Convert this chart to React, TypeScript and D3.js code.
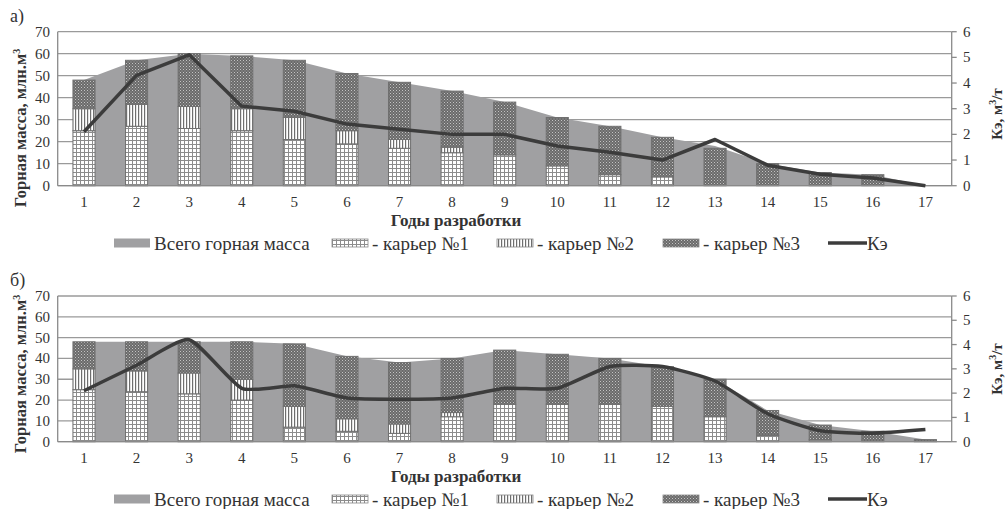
import React from "react";
import * as d3 from "d3";

const years = ["1","2","3","4","5","6","7","8","9","10","11","12","13","14","15","16","17"];
const leftTicks = [0,10,20,30,40,50,60,70];
const rightTicks = [0,1,2,3,4,5,6];

// Panel a)
const aQuarry1 = [25,27,26,25,21,19,17,15,14,9,5,4,0,0,0,0,0];
const aQuarry2 = [10,10,10,10,10,6,4,2.5,0,0,0,0,0,0,0,0,0];
const aQuarry3 = [13,20,24,24,26,26,26,25.5,24,22,22,18,17,10,6,5,0];
const aTotal = [48,57,60,59,57,51,47,43,38,31,27,22,18,10,6,5,0];
const aKe = [2.1,4.3,5.1,3.1,2.9,2.4,2.2,2.0,2.0,1.55,1.3,1.0,1.8,0.8,0.45,0.3,0];

// Panel б)
const bQuarry1 = [25,24,23,20,7,5,4,12,18,18,18,17,12,3,1,0,0];
const bQuarry2 = [10,10,10,10,10,6,4.5,2,0,0,0,0,0,0,0,0,0];
const bQuarry3 = [13,14,15,18,30,30,29.5,26,26,24,22,19,18,12,7,5,1];
const bTotal = [48,48,48,48,47,41,38,40,44,42,40,36,30,15,8,5,1];
const bKe = [2.1,3.15,4.2,2.2,2.3,1.8,1.75,1.8,2.2,2.2,3.1,3.1,2.5,1.15,0.45,0.35,0.5];

const legendLabels = ["Всего горная масса", "- карьер №1", "- карьер №2", "- карьер №3", "Кэ"];

const FONT = "Liberation Serif, DejaVu Serif, Times New Roman, serif";
const X0 = 57.7;
const X1 = 951.7;

type PanelProps = {
  label: string;
  top: number;
  bottom: number;
  q1: number[];
  q2: number[];
  q3: number[];
  total: number[];
  ke: number[];
  smooth: boolean;
  legendY: number;
  leftTitleY: number;
  rightTitleY: number;
};

function Panel(p: PanelProps) {
  const x = d3.scaleBand<string>().domain(years).range([X0, X1]).paddingInner(0).paddingOuter(0);
  const y = d3.scaleLinear().domain([0, 70]).range([p.bottom, p.top]);
  const y2 = d3.scaleLinear().domain([0, 6]).range([p.bottom, p.top]);
  const bw = x.bandwidth() * 0.42;
  const cx = (i: number) => (x(years[i]) as number) + x.bandwidth() / 2;

  const area = d3
    .area<number>()
    .x((_, i) => cx(i))
    .y0(y(0))
    .y1((d) => y(d));
  const line = d3
    .line<number>()
    .x((_, i) => cx(i))
    .y((d) => y2(d))
    .curve(p.smooth ? d3.curveCardinal.tension(0.45) : d3.curveLinear);

  const stacks = [
    { vals: p.q1, fill: "url(#pGrid)" },
    { vals: p.q2, fill: "url(#pVert)" },
    { vals: p.q3, fill: "url(#pCheck)" },
  ];

  const legendItems = [
    { x: 114, kind: "area", text: legendLabels[0] },
    { x: 332, kind: "q1", text: legendLabels[1] },
    { x: 497, kind: "q2", text: legendLabels[2] },
    { x: 663, kind: "q3", text: legendLabels[3] },
    { x: 828, kind: "line", text: legendLabels[4] },
  ];

  return (
    <g>
      <text x={10} y={p.top - 10} fontFamily={FONT} fontSize={18} fill="#333">
        {p.label}
      </text>
      {leftTicks.map((t) => (
        <line key={"g" + t} x1={X0} x2={X1} y1={y(t)} y2={y(t)} stroke="#9a9a9a" strokeWidth={1.3} />
      ))}
      <path d={area(p.total) || ""} fill="#a0a0a2" />
      {years.map((yr, i) => {
        let acc = 0;
        return (
          <g key={"b" + yr}>
            {stacks.map((s, k) => {
              const v = s.vals[i];
              const y0 = acc;
              acc += v;
              if (v <= 0) return null;
              return (
                <rect
                  key={k}
                  x={cx(i) - bw / 2}
                  width={bw}
                  y={y(y0 + v)}
                  height={y(y0) - y(y0 + v)}
                  fill={s.fill}
                  stroke="#707070"
                  strokeWidth={1}
                />
              );
            })}
          </g>
        );
      })}
      <line x1={X0} x2={X0} y1={p.top} y2={p.bottom} stroke="#8a8a8a" strokeWidth={1.3} />
      <line x1={X1} x2={X1} y1={p.top} y2={p.bottom} stroke="#8a8a8a" strokeWidth={1.3} />
      <line x1={X0} x2={X1} y1={p.bottom} y2={p.bottom} stroke="#8a8a8a" strokeWidth={1.3} />
      <path d={line(p.ke) || ""} fill="none" stroke="#3c3c3c" strokeWidth={3.5} strokeLinejoin="round" />
      {leftTicks.map((t) => (
        <text key={"l" + t} x={50} y={y(t) + 5} textAnchor="end" fontFamily={FONT} fontSize={15} fill="#333">
          {t}
        </text>
      ))}
      {rightTicks.map((t) => (
        <g key={"r" + t}>
          <line x1={X1} x2={X1 + 5} y1={y2(t)} y2={y2(t)} stroke="#8a8a8a" strokeWidth={1.3} />
          <text x={963} y={y2(t) + 5} fontFamily={FONT} fontSize={15} fill="#333">
            {t}
          </text>
        </g>
      ))}
      {years.map((yr, i) => (
        <text key={"x" + yr} x={cx(i)} y={p.bottom + 21} textAnchor="middle" fontFamily={FONT} fontSize={15} fill="#333">
          {yr}
        </text>
      ))}
      <text x={456} y={p.bottom + 40} textAnchor="middle" fontFamily={FONT} fontSize={17} fontWeight="bold" fill="#333">
        Годы разработки
      </text>
      <text
        transform={`translate(26,${p.leftTitleY}) rotate(-90)`}
        textAnchor="middle"
        fontFamily={FONT}
        fontSize={16.5}
        fontWeight="bold"
        fill="#333"
      >
        Горная масса, млн.м<tspan dy={-6} fontSize={10}>3</tspan>
      </text>
      <text
        transform={`translate(1002,${p.rightTitleY}) rotate(-90)`}
        textAnchor="middle"
        fontFamily={FONT}
        fontSize={15}
        fontWeight="bold"
        fill="#333"
      >
        Кэ, м<tspan dy={-6} fontSize={10}>3</tspan>
        <tspan dy={6}>/т</tspan>
      </text>
      {legendItems.map((it) => {
        const sy = p.legendY;
        let sw: React.ReactNode = null;
        if (it.kind === "area") sw = <rect x={it.x} y={sy - 4.5} width={36} height={9} fill="#a0a0a2" />;
        else if (it.kind === "q1") sw = <rect x={it.x} y={sy - 4} width={36} height={8} fill="url(#pGrid)" stroke="#888" strokeWidth={0.8} />;
        else if (it.kind === "q2") sw = <rect x={it.x} y={sy - 4} width={36} height={8} fill="url(#pVert)" stroke="#888" strokeWidth={0.8} />;
        else if (it.kind === "q3") sw = <rect x={it.x} y={sy - 4} width={36} height={8} fill="url(#pCheck)" stroke="#888" strokeWidth={0.8} />;
        else sw = <line x1={it.x} x2={it.x + 39} y1={sy} y2={sy} stroke="#3c3c3c" strokeWidth={3.5} />;
        const tx = it.kind === "line" ? it.x + 39 : it.x + 40;
        return (
          <g key={it.kind}>
            {sw}
            <text x={tx} y={sy + 7} fontFamily={FONT} fontSize={19} fill="#333">
              {it.text}
            </text>
          </g>
        );
      })}
    </g>
  );
}

export default function App() {
  return (
    <svg
      width={1005}
      height={509}
      style={{ position: "absolute", left: 0, top: 0, display: "block", background: "#fff" }}
    >
      <defs>
        <pattern id="pGrid" width={4} height={4} patternUnits="userSpaceOnUse">
          <rect width={4} height={4} fill="#ffffff" />
          <rect x={0} y={0} width={1} height={4} fill="#8c8c8c" />
          <rect x={0} y={0} width={4} height={1} fill="#8c8c8c" />
        </pattern>
        <pattern id="pVert" width={3} height={3} patternUnits="userSpaceOnUse">
          <rect width={3} height={3} fill="#ffffff" />
          <rect x={0} y={0} width={1.2} height={3} fill="#6e6e6e" />
        </pattern>
        <pattern id="pCheck" width={3} height={3} patternUnits="userSpaceOnUse">
          <rect width={3} height={3} fill="#6a6a6a" />
          <rect x={0} y={0} width={1} height={1} fill="#c4c4c4" />
          <rect x={1.5} y={1.5} width={1} height={1} fill="#a8a8a8" />
        </pattern>
      </defs>
      <rect width={1005} height={509} fill="#fff" />
      <Panel label="а)" top={31.7} bottom={185.7} q1={aQuarry1} q2={aQuarry2} q3={aQuarry3} total={aTotal} ke={aKe} smooth={false} legendY={243} leftTitleY={128} rightTitleY={114} />
      <Panel label="б)" top={296} bottom={441.7} q1={bQuarry1} q2={bQuarry2} q3={bQuarry3} total={bTotal} ke={bKe} smooth={true} legendY={499} leftTitleY={374} rightTitleY={369} />
    </svg>
  );
}
